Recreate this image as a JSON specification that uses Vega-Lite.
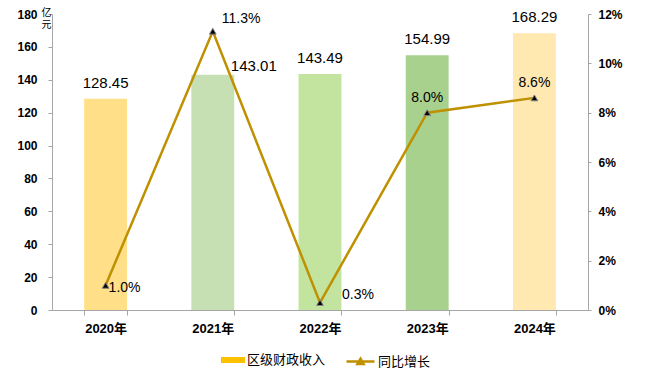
{
  "$schema": "https://vega.github.io/schema/vega-lite/v6.json",
  "width": 536,
  "height": 296,
  "autosize": "none",
  "padding": {"left": 52, "top": 14, "right": 57, "bottom": 70},
  "config": {
    "view": {"stroke": null},
    "font": "Liberation Sans, Noto Sans CJK SC",
    "axis": {
      "grid": false,
      "domainColor": "#A6A6A6",
      "tickColor": "#A6A6A6",
      "labelColor": "#000000",
      "labelFont": "Liberation Sans, Noto Sans CJK SC",
      "labelFontWeight": "bold",
      "labelFontSize": 12
    }
  },
  "data": {
    "values": [
      {"year": "2020年", "revenue": 128.45, "growth": 1.0},
      {"year": "2021年", "revenue": 143.01, "growth": 11.3},
      {"year": "2022年", "revenue": 143.49, "growth": 0.3},
      {"year": "2023年", "revenue": 154.99, "growth": 8.0},
      {"year": "2024年", "revenue": 168.29, "growth": 8.6}
    ]
  },
  "encoding": {
    "x": {
      "field": "year",
      "type": "nominal",
      "sort": null,
      "scale": {"paddingInner": 0.6, "paddingOuter": 0.3},
      "axis": {"title": null, "labelAngle": 0, "tickBand": "extent", "tickSize": 5, "labelPadding": 7, "labelFontSize": 13}
    }
  },
  "layer": [
    {
      "encoding": {
        "y": {
          "field": "revenue",
          "type": "quantitative",
          "scale": {"domain": [0, 180], "nice": false},
          "axis": {
            "orient": "left",
            "values": [0, 20, 40, 60, 80, 100, 120, 140, 160, 180],
            "tickSize": 4,
            "labelPadding": 11,
            "title": ["亿", "元"],
            "titleAngle": 0,
            "titleX": -6,
            "titleY": -7,
            "titleAlign": "center",
            "titleBaseline": "top",
            "titleFont": "Noto Sans CJK SC",
            "titleFontSize": 10,
            "titleFontWeight": "normal",
            "titleLineHeight": 12,
            "titleColor": "#000000"
          }
        }
      },
      "layer": [
        {
          "mark": {"type": "bar"},
          "encoding": {
            "fill": {
              "datum": "区级财政收入",
              "scale": {"range": ["#FFC000"]},
              "condition": [
                {"test": "datum.year === '2020年'", "value": "#FFDF87"},
                {"test": "datum.year === '2021年'", "value": "#C6E0B4"},
                {"test": "datum.year === '2022年'", "value": "#C3E49E"},
                {"test": "datum.year === '2023年'", "value": "#A9D18E"},
                {"test": "datum.year === '2024年'", "value": "#FFE9B1"}
              ],
              "legend": {
                "title": null,
                "orient": "none",
                "legendX": 169,
                "legendY": 334,
                "symbolType": "M-1,-0.25H1V0.25H-1Z",
                "symbolSize": 576,
                "symbolStrokeWidth": 0,
                "labelFont": "Noto Sans CJK SC",
                "labelFontSize": 13,
                "labelColor": "#000000",
                "labelOffset": 2
              }
            }
          }
        },
        {
          "transform": [{"filter": "datum.year !== '2021年'"}],
          "mark": {"type": "text", "fontSize": 15, "font": "Liberation Sans", "color": "#000000", "baseline": "middle", "dy": -16},
          "encoding": {"text": {"field": "revenue", "type": "quantitative", "format": ".2f"}}
        },
        {
          "transform": [{"filter": "datum.year === '2021年'"}],
          "mark": {"type": "text", "fontSize": 15, "font": "Liberation Sans", "color": "#000000", "baseline": "middle", "dx": 41, "dy": -9},
          "encoding": {"text": {"field": "revenue", "type": "quantitative", "format": ".2f"}}
        }
      ]
    },
    {
      "encoding": {
        "y": {
          "field": "growth",
          "type": "quantitative",
          "scale": {"domain": [0, 12], "nice": false},
          "axis": {
            "orient": "right",
            "values": [0, 2, 4, 6, 8, 10, 12],
            "labelExpr": "datum.value + '%'",
            "tickSize": 3,
            "labelPadding": 7,
            "title": null
          }
        }
      },
      "layer": [
        {
          "mark": {"type": "line", "strokeWidth": 2.5},
          "encoding": {
            "stroke": {
              "datum": "同比增长",
              "scale": {"range": ["#BF9000"]},
              "legend": {
                "title": null,
                "orient": "none",
                "legendX": 293,
                "legendY": 332,
                "symbolType": "M-1,0H1M0,-0.2L0.22,0.18H-0.22Z",
                "symbolSize": 784,
                "symbolStrokeWidth": 2.5,
                "labelFont": "Noto Sans CJK SC",
                "labelFontSize": 13,
                "labelColor": "#000000",
                "labelOffset": 2,
                "encode": {"symbols": {"update": {"fill": {"value": "#000000"}}}}
              }
            }
          }
        },
        {
          "mark": {"type": "point", "shape": "triangle-up", "filled": true, "fill": "#000000", "stroke": "#808080", "strokeWidth": 1, "size": 45, "opacity": 1}
        },
        {
          "transform": [{"filter": "datum.year === '2020年'"}],
          "mark": {"type": "text", "fontSize": 14, "font": "Liberation Sans", "color": "#000000", "align": "left", "baseline": "middle", "dx": 3, "dy": 3, "text": {"expr": "format(datum.growth, '.1f') + '%'"}}
        },
        {
          "transform": [{"filter": "datum.year === '2021年'"}],
          "mark": {"type": "text", "fontSize": 14, "font": "Liberation Sans", "color": "#000000", "align": "left", "baseline": "middle", "dx": 9, "dy": -12, "text": {"expr": "format(datum.growth, '.1f') + '%'"}}
        },
        {
          "transform": [{"filter": "datum.year === '2022年'"}],
          "mark": {"type": "text", "fontSize": 14, "font": "Liberation Sans", "color": "#000000", "align": "left", "baseline": "middle", "dx": 22, "dy": -8, "text": {"expr": "format(datum.growth, '.1f') + '%'"}}
        },
        {
          "transform": [{"filter": "datum.year === '2023年' || datum.year === '2024年'"}],
          "mark": {"type": "text", "fontSize": 14, "font": "Liberation Sans", "color": "#000000", "align": "center", "baseline": "middle", "dy": -15, "text": {"expr": "format(datum.growth, '.1f') + '%'"}}
        }
      ]
    }
  ],
  "resolve": {"scale": {"y": "independent"}}
}
